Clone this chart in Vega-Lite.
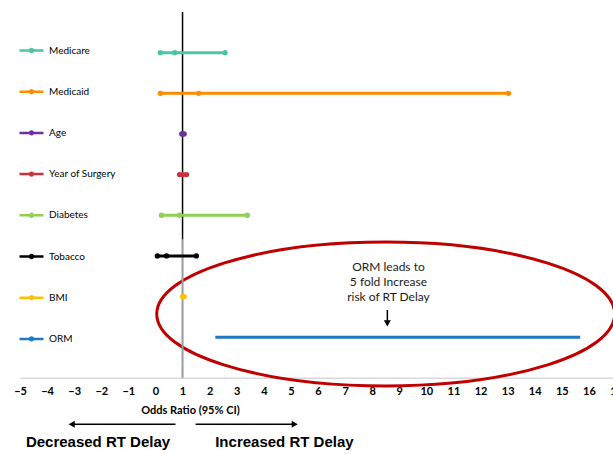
{
  "$schema": "https://vega.github.io/schema/vega-lite/v6.json",
  "width": 596,
  "height": 439,
  "autosize": {"type": "none"},
  "padding": {"left": 20, "top": 12, "right": 0, "bottom": 0},
  "background": "white",
  "config": {
    "view": {"stroke": null},
    "axisX": {
      "labelFont": "Lato", "labelFontWeight": "bold", "labelFontSize": 11, "labelColor": "#000000",
      "labelOverlap": false, "labelFlush": false, "labelPadding": 8,
      "ticks": false, "grid": false, "tickCount": 40,
      "domainColor": "#d9d9d9", "domainWidth": 1.5,
      "offset": -73.2,
      "titleFont": "Lato", "titleFontSize": 11, "titleFontWeight": "bold", "titleColor": "#000000",
      "titleX": 170, "titleY": 33, "titleAlign": "center", "titleBaseline": "middle"
    },
    "legend": {
      "orient": "none", "legendX": -2, "legendY": 25, "padding": 0,
      "title": null, "symbolSize": 576, "rowPadding": 21.2, "labelOffset": 4,
      "labelFont": "Lato", "labelFontSize": 10, "labelColor": "#000000",
      "symbolType": "M-1,0L1,0M0.12,0A0.12,0.12,0,1,1,-0.12,0A0.12,0.12,0,1,1,0.12,0Z",
      "symbolStrokeWidth": 2.5
    }
  },
  "datasets": {
    "or": [
      {"variable": "Medicare", "row": 1, "lo": 0.18, "est": 0.71, "hi": 2.57},
      {"variable": "Medicaid", "row": 2, "lo": 0.18, "est": 1.60, "hi": 13.03},
      {"variable": "Age", "row": 3, "lo": 0.97, "est": 1.01, "hi": 1.06},
      {"variable": "Year of Surgery", "row": 4, "lo": 0.89, "est": 1.02, "hi": 1.15},
      {"variable": "Diabetes", "row": 5, "lo": 0.22, "est": 0.89, "hi": 3.39},
      {"variable": "Tobacco", "row": 6, "lo": 0.07, "est": 0.41, "hi": 1.51},
      {"variable": "BMI", "row": 7, "lo": 1.0, "est": 1.03, "hi": 1.06},
      {"variable": "ORM", "row": 8, "lo": 2.21, "est": 5.0, "hi": 15.68}
    ]
  },
  "layer": [
    {
      "data": {"values": [{"x": 8.5, "y": 7.43}]},
      "mark": {"type": "point", "shape": "M-1,0A1,0.314,0,1,1,1,0A1,0.314,0,1,1,-1,0Z", "size": 209764, "filled": false, "stroke": "#c00000", "strokeWidth": 3, "opacity": 1, "clip": false},
      "encoding": {
        "x": {"field": "x", "type": "quantitative", "scale": {"domain": [-5, 17], "nice": false, "zero": false}, "title": "Odds Ratio (95% CI)",
              "axis": {"values": [-5,-4,-3,-2,-1,0,1,2,3,4,5,6,7,8,9,10,11,12,13,14,15,16,17], "tickCount": 40, "format": "d", "labelOverlap": false, "labelFlush": false}},
        "y": {"field": "y", "type": "quantitative", "scale": {"domain": [0, 10.8], "nice": false, "zero": false, "reverse": true}, "axis": null}
      }
    },
    {
      "data": {"values": [{"x": 1, "y1": 0, "y2": 5.6}]},
      "mark": {"type": "rule", "color": "#000000", "strokeWidth": 1.5},
      "encoding": {
        "x": {"field": "x", "type": "quantitative", "title": "Odds Ratio (95% CI)"},
        "y": {"field": "y1", "type": "quantitative", "axis": null},
        "y2": {"field": "y2"}
      }
    },
    {
      "data": {"values": [{"x": 1, "y1": 5.6, "y2": 9}]},
      "mark": {"type": "rule", "color": "#9a9a9a", "strokeWidth": 2},
      "encoding": {
        "x": {"field": "x", "type": "quantitative", "title": "Odds Ratio (95% CI)"},
        "y": {"field": "y1", "type": "quantitative", "axis": null},
        "y2": {"field": "y2"}
      }
    },
    {
      "data": {"name": "or"},
      "mark": {"type": "rule", "strokeWidth": 3},
      "encoding": {
        "x": {"field": "lo", "type": "quantitative", "title": "Odds Ratio (95% CI)"},
        "x2": {"field": "hi"},
        "y": {"field": "row", "type": "quantitative", "axis": null},
        "color": {
          "field": "variable", "type": "nominal",
          "scale": {"domain": ["Medicare", "Medicaid", "Age", "Year of Surgery", "Diabetes", "Tobacco", "BMI", "ORM"],
                    "range": ["#4cc4a6", "#ff8c00", "#7030a0", "#c8323e", "#92d050", "#000000", "#ffc000", "#1f78c1"]},
          "legend": {
            "encode": {"symbols": {"update": {
              "stroke": {"scale": "color", "field": "value"},
              "fill": {"scale": "color", "field": "value"},
              "strokeWidth": {"value": 2.5},
              "opacity": {"value": 1}
            }}}
          }
        }
      }
    },
    {
      "data": {"name": "or"},
      "transform": [{"filter": "datum.variable !== 'ORM'"}],
      "mark": {"type": "point", "filled": true, "size": 28, "opacity": 1},
      "encoding": {
        "x": {"field": "lo", "type": "quantitative", "title": "Odds Ratio (95% CI)"},
        "y": {"field": "row", "type": "quantitative", "axis": null},
        "color": {"field": "variable", "type": "nominal"}
      }
    },
    {
      "data": {"name": "or"},
      "transform": [{"filter": "datum.variable !== 'ORM'"}],
      "mark": {"type": "point", "filled": true, "size": 28, "opacity": 1},
      "encoding": {
        "x": {"field": "est", "type": "quantitative", "title": "Odds Ratio (95% CI)"},
        "y": {"field": "row", "type": "quantitative", "axis": null},
        "color": {"field": "variable", "type": "nominal"}
      }
    },
    {
      "data": {"name": "or"},
      "transform": [{"filter": "datum.variable !== 'ORM'"}],
      "mark": {"type": "point", "filled": true, "size": 28, "opacity": 1},
      "encoding": {
        "x": {"field": "hi", "type": "quantitative", "title": "Odds Ratio (95% CI)"},
        "y": {"field": "row", "type": "quantitative", "axis": null},
        "color": {"field": "variable", "type": "nominal"}
      }
    },
    {
      "data": {"values": [{"x": 8.6, "y": 6.15, "label": ["ORM leads to", "5 fold Increase", "risk of RT Delay"]}]},
      "mark": {"type": "text", "font": "Lato", "fontSize": 12, "color": "#1a1a1a", "align": "center", "baseline": "top", "lineHeight": 15},
      "encoding": {
        "x": {"field": "x", "type": "quantitative", "title": "Odds Ratio (95% CI)"},
        "y": {"field": "y", "type": "quantitative", "axis": null},
        "text": {"field": "label"}
      }
    },
    {
      "data": {"values": [
        {"x1": 8.56, "x2": 8.56, "y1": 7.33, "y2": 7.62},
        {"x1": 0.74, "x2": -3.05, "y1": 10.14, "y2": 10.14},
        {"x1": 1.48, "x2": 5.1, "y1": 10.14, "y2": 10.14}
      ]},
      "mark": {"type": "rule", "color": "#000000", "strokeWidth": 1.5},
      "encoding": {
        "x": {"field": "x1", "type": "quantitative", "title": "Odds Ratio (95% CI)"},
        "x2": {"field": "x2"},
        "y": {"field": "y1", "type": "quantitative", "axis": null},
        "y2": {"field": "y2"}
      }
    },
    {
      "data": {"values": [
        {"x": 8.56, "y": 7.66, "dir": "down"},
        {"x": -3.09, "y": 10.14, "dir": "left"},
        {"x": 5.14, "y": 10.14, "dir": "right"}
      ]},
      "mark": {"type": "point", "filled": true, "size": 49, "color": "#000000", "opacity": 1},
      "encoding": {
        "x": {"field": "x", "type": "quantitative", "title": "Odds Ratio (95% CI)"},
        "y": {"field": "y", "type": "quantitative", "axis": null},
        "shape": {"field": "dir", "type": "nominal", "scale": {"domain": ["down", "left", "right"], "range": ["triangle-down", "triangle-left", "triangle-right"]}, "legend": null}
      }
    },
    {
      "data": {"values": [
        {"x": -2.12, "y": 10.58, "label": "Decreased RT Delay"},
        {"x": 4.76, "y": 10.58, "label": "Increased RT Delay"}
      ]},
      "mark": {"type": "text", "font": "Liberation Sans", "fontSize": 15, "fontWeight": "bold", "color": "#000000", "align": "center", "baseline": "middle"},
      "encoding": {
        "x": {"field": "x", "type": "quantitative", "title": "Odds Ratio (95% CI)"},
        "y": {"field": "y", "type": "quantitative", "axis": null},
        "text": {"field": "label"}
      }
    }
  ]
}
